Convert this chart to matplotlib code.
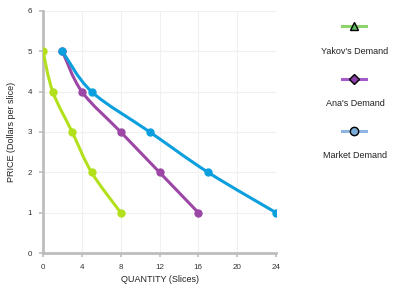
import numpy as np
import matplotlib
matplotlib.use("Agg")
import matplotlib.pyplot as plt
from matplotlib.path import Path
from matplotlib.patches import PathPatch
from matplotlib.lines import Line2D

plt.rcParams['font.family'] = ['Liberation Sans', 'DejaVu Sans']

# data
price = [5, 4, 3, 2, 1]
yakov_qty = [0, 1, 3, 5, 8]
ana_qty = [2, 4, 8, 12, 16]
market_qty = [2, 5, 11, 17, 24]

series_names = ["Yakov's Demand", "Ana's Demand", "Market Demand"]
line_colors = ['#b3e01c', '#9c47a6', '#0b9fde']
legend_line_colors = ['#8ed36c', '#a55bc9', '#8fb6e2']
legend_fill = ['#5cb85c', '#8a3fa6', '#7aaad6']
legend_markers = ['^', 'D', 'o']


def smooth_path(xs, ys):
    # catmull-rom style bezier through the data points
    pts = np.column_stack([xs, ys]).astype(float)
    verts = [pts[0]]
    codes = [Path.MOVETO]
    n = len(pts)
    for i in range(n - 1):
        p0 = pts[i - 1] if i > 0 else pts[i]
        p1 = pts[i]
        p2 = pts[i + 1]
        p3 = pts[i + 2] if i + 2 < n else pts[i + 1]
        c1 = p1 + (p2 - p0) / 6.0
        c2 = p2 - (p3 - p1) / 6.0
        verts += [c1, c2, p2]
        codes += [Path.CURVE4] * 3
    return Path(verts, codes)


fig = plt.figure(figsize=(3.96, 2.88), dpi=100)
ax = fig.add_axes([0.1086, 0.1215, 0.5884, 0.8405])

for qty, col in zip([yakov_qty, ana_qty, market_qty], line_colors):
    ax.add_patch(PathPatch(smooth_path(qty, price), fill=False, edgecolor=col,
                           lw=2.2, zorder=3))
    ax.plot(qty, price, 'o', color=col, ms=5, zorder=4)

ax.set_xlim(0, 24)
ax.set_ylim(0, 6)
ax.set_xticks(range(0, 25, 4))
ax.set_yticks(range(0, 7))
ax.grid(True, color='#f0f0f0', lw=0.8)
ax.set_axisbelow(True)
for s in ['top', 'right']:
    ax.spines[s].set_visible(False)
for s in ['left', 'bottom']:
    ax.spines[s].set_color('#bdbdbd')
    ax.spines[s].set_linewidth(2)
ax.tick_params(axis='both', colors='#bdbdbd', width=1.2, length=3, labelsize=5.8,
               labelcolor='#333333', pad=5)
ax.set_xlabel('QUANTITY (Slices)', fontsize=6.5, color='#222222', labelpad=3)
ax.set_ylabel('PRICE (Dollars per slice)', fontsize=6.5, color='#222222', labelpad=8)

# custom legend on the right
legend_y = [26, 79, 131]
text_y = [51, 103, 156]
for i in range(3):
    yl = 1 - legend_y[i] / 288
    yt = 1 - text_y[i] / 288
    fig.add_artist(Line2D([342 / 396, 366 / 396], [yl, yl], color=legend_line_colors[i],
                          lw=2.2, transform=fig.transFigure))
    fig.add_artist(Line2D([354 / 396], [yl], marker=legend_markers[i], ms=6 if i != 1 else 5,
                          mfc=legend_fill[i], mec='black', mew=1, transform=fig.transFigure))
    fig.text(355 / 396, yt, series_names[i], fontsize=6.5, ha='center', va='center',
             color='#222222')

fig.savefig('out.png', dpi=100)
